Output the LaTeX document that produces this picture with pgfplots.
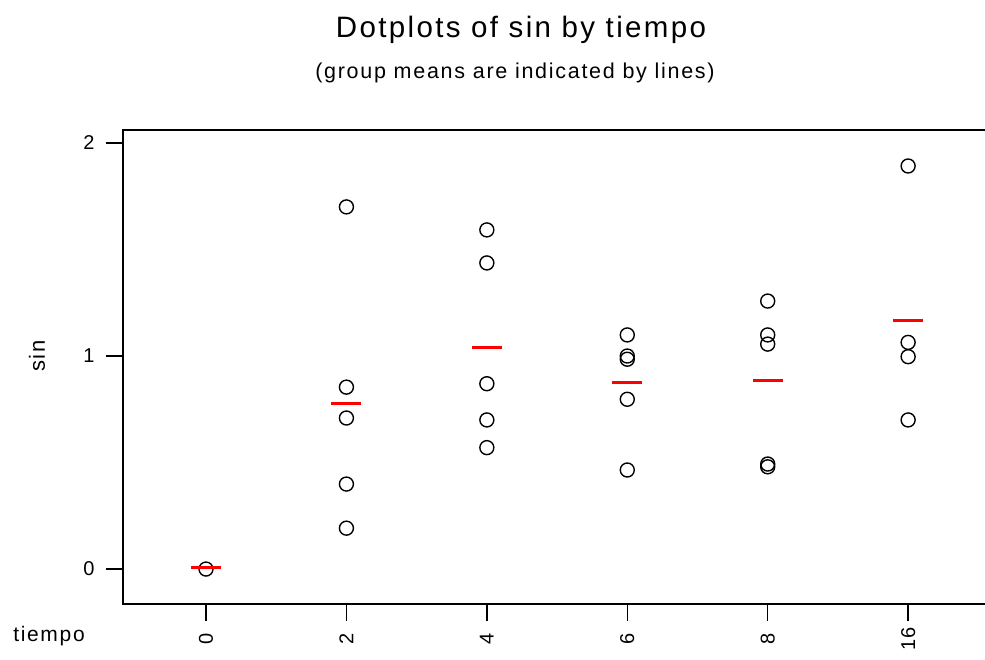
\documentclass[border=0pt]{standalone}
\usepackage{fontspec}
\setmainfont{Liberation Sans}[LetterSpace=8]
\usepackage{pgfplots}
\pgfplotsset{compat=1.18}

% one series per tiempo group, x = group index
\pgfplotstableread{
x y
0 0.000
1 1.700
1 0.854
1 0.709
1 0.399
1 0.192
2 1.592
2 1.437
2 0.870
2 0.700
2 0.570
3 1.099
3 1.000
3 0.985
3 0.797
3 0.465
4 1.258
4 1.099
4 1.056
4 0.493
4 0.480
5 1.892
5 1.064
5 0.997
5 0.700
}\dots

\pgfplotstableread{
x m
0 0.008
1 0.778
2 1.038
3 0.875
4 0.884
5 1.168
}\means

\begin{document}
\begin{tikzpicture}[x=1pt,y=1pt]
\useasboundingbox (0,0) rectangle (985,659);
\node[font=\fontsize{29.5}{33}\selectfont] at (521,629) {Dotplots of sin by tiempo};
\node[font=\fontsize{21.5}{25}\selectfont] at (515,586) {(group means are indicated by lines)};
\node[font=\fontsize{21}{24}\selectfont] at (49,23) {tiempo};
\node[font=\fontsize{22}{24}\selectfont, rotate=90] at (37,303) {sin};
\begin{axis}[
  at={(123pt,55pt)}, anchor=south west,
  scale only axis, width=875pt, height=474pt,
  xmin=-0.591, xmax=5.64,
  ymin=-0.164, ymax=2.061,
  axis line style={black, line width=1.5pt},
  tick align=outside, major tick length=17pt,
  tick style={black, line width=1.5pt},
  xtick pos=left, ytick pos=left,
  xtick={0,1,2,3,4,5}, xticklabels={0,2,4,6,8,16},
  ytick={0,1,2},
  /pgf/number format/assume math mode=true,
  tick label style={font=\fontsize{20}{22}\selectfont},
  xticklabel style={rotate=90, anchor=center, xshift=-18pt},
  yticklabel style={anchor=east, xshift=-8pt},
  clip=false,
]
\addplot[only marks, mark=o, mark size=7pt, black, mark options={line width=1.4pt}]
  table[x=x, y=y] {\dots};
\addplot[only marks, mark=-, mark size=15pt, red, mark options={line width=3pt}]
  table[x=x, y=m] {\means};
\end{axis}
\end{tikzpicture}
\end{document}
